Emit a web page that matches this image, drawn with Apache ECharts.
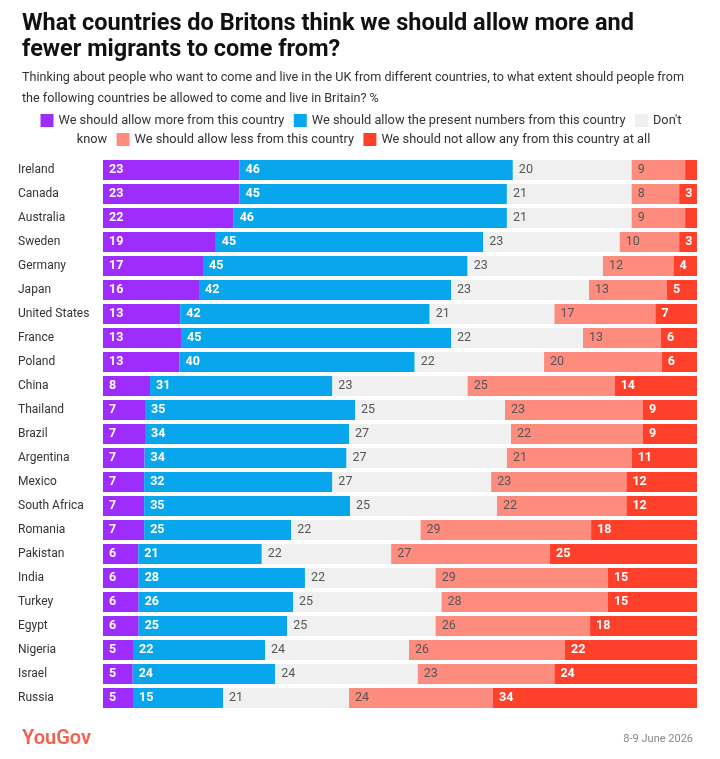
<!DOCTYPE html>
<html>
<head>
<meta charset="utf-8">
<script src="https://cdn.jsdelivr.net/npm/echarts@6/dist/echarts.min.js"></script>
<style>
	html, body { margin: 0; padding: 0; background: #fff; }
	#main { width: 720px; height: 759px; }
</style>
</head>
<body>
<div id="main"></div>
<script>
var countries = ['Ireland', 'Canada', 'Australia', 'Sweden', 'Germany', 'Japan', 'United States', 'France', 'Poland', 'China', 'Thailand', 'Brazil', 'Argentina', 'Mexico', 'South Africa', 'Romania', 'Pakistan', 'India', 'Turkey', 'Egypt', 'Nigeria', 'Israel', 'Russia'];
var seriesNames = ['We should allow more from this country', 'We should allow the present numbers from this country', "Don't know", 'We should allow less from this country', 'We should not allow any from this country at all'];
var allowMore = [23, 23, 22, 19, 17, 16, 13, 13, 13, 8, 7, 7, 7, 7, 7, 7, 6, 6, 6, 6, 5, 5, 5];
var allowPresent = [46, 45, 46, 45, 45, 42, 42, 45, 40, 31, 35, 34, 34, 32, 35, 25, 21, 28, 26, 25, 22, 24, 15];
var dontKnow = [20, 21, 21, 23, 23, 23, 21, 22, 22, 23, 25, 27, 27, 27, 25, 22, 22, 22, 25, 25, 24, 24, 21];
var allowLess = [9, 8, 9, 10, 12, 13, 17, 13, 20, 25, 23, 22, 21, 23, 22, 29, 27, 29, 28, 26, 26, 23, 24];
var allowNone = [2, 3, 2, 3, 4, 5, 7, 6, 6, 14, 9, 9, 11, 12, 12, 18, 25, 15, 15, 18, 22, 24, 34];

var colors = ['#9d2cfd', '#08a6ec', '#f0f0f0', '#fe8c7e', '#ff412c'];
var lists = [allowMore, allowPresent, dontKnow, allowLess, allowNone];

var dom = document.getElementById('main');
var myChart = echarts.init(dom, null, { renderer: 'canvas' });
var font = 'Roboto, "Liberation Sans", sans-serif';

// each row is stretched to the full width, labels keep the survey numbers
var totals = countries.map(function(c, i) {
	return lists.reduce(function(s, l) { return s + l[i]; }, 0);
});

var series = lists.map(function(list, k) {
	var dark = (k === 0 || k === 1 || k === 4);
	return {
		name: seriesNames[k],
		type: 'bar',
		stack: 'all',
		barWidth: 20,
		itemStyle: { color: colors[k] },
		label: {
			show: true,
			position: 'insideLeft',
			distance: 6,
			fontFamily: font,
			fontSize: 12.5,
			fontWeight: dark ? 'bold' : 'normal',
			color: dark ? '#ffffff' : '#555555',
			formatter: function(p) {
				return p.data.raw < 3 ? '' : p.data.raw;
			}
		},
		data: list.map(function(v, i) {
			return { value: v / totals[i] * 100, raw: v };
		})
	};
});

// legend wraps inside the "Don't know" item like the original
var legendText = '{a|}{t|We should allow more from this country}   {b|}{t|We should allow the present numbers from this country}   {c|}{t|Don\'t}\n' +
	'{t|know}   {d|}{t|We should allow less from this country}   {e|}{t|We should not allow any from this country at all}';
var box = function(c) { return { width: 13, height: 13, backgroundColor: c }; };

var option = {
	animation: false,
	textStyle: { fontFamily: font },
	title: [{
		text: 'What countries do Britons think we should allow more and\nfewer migrants to come from?',
		left: 17,
		top: 6,
		textStyle: { fontSize: 23.5, fontWeight: 'bold', color: '#111', lineHeight: 26, fontFamily: font }
	}, {
		text: 'Thinking about people who want to come and live in the UK from different countries, to what extent should people from\nthe following countries be allowed to come and live in Britain? %',
		left: 17,
		top: 62,
		textStyle: { fontSize: 12.6, fontWeight: 'normal', color: '#333', lineHeight: 21, fontFamily: font }
	}, {
		text: 'YouGov',
		left: 17,
		top: 724,
		textStyle: { fontSize: 20, fontWeight: 600, color: '#f4604e', fontFamily: font }
	}, {
		text: '8-9 June 2026',
		right: 22,
		top: 729,
		textStyle: { fontSize: 11, fontWeight: 'normal', color: '#888', fontFamily: font }
	}],
	graphic: [{
		type: 'text',
		x: 361,
		y: 111,
		style: {
			text: legendText,
			align: 'center',
			verticalAlign: 'top',
			lineHeight: 19,
			font: '12.6px ' + font,
			fill: '#333',
			rich: {
				t: { fontSize: 12.8, fontFamily: font, fill: '#333', padding: [0, 0, 0, 5] },
				a: box(colors[0]),
				b: box(colors[1]),
				c: box(colors[2]),
				d: box(colors[3]),
				e: box(colors[4])
			}
		}
	}],
	grid: {
		left: 103,
		right: 23,
		top: 158,
		height: 552,
		containLabel: false
	},
	xAxis: {
		type: 'value',
		min: 0,
		max: 100,
		show: false
	},
	yAxis: {
		type: 'category',
		data: countries,
		inverse: true,
		axisLine: { show: false },
		axisTick: { show: false },
		axisLabel: {
			align: 'left',
			margin: 85,
			fontSize: 12,
			color: '#333',
			fontFamily: font
		}
	},
	series: series
};

myChart.setOption(option);
window.addEventListener('resize', myChart.resize);
</script>
</body>
</html>
